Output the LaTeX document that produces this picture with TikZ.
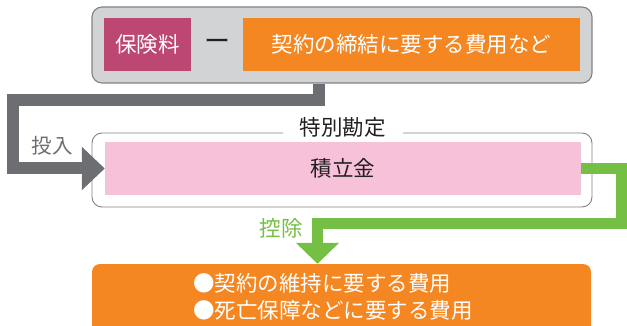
\documentclass[tikz,border=0pt]{standalone}
\usepackage{fontspec}
\setmainfont{Noto Sans CJK JP}
\usetikzlibrary{arrows.meta}
\definecolor{boxgray}{HTML}{D1D3D4}
\definecolor{edgegray}{HTML}{808285}
\definecolor{pipegray}{HTML}{6D6E71}
\definecolor{premium}{HTML}{BC4773}
\definecolor{costorange}{HTML}{F58722}
\definecolor{fundpink}{HTML}{F7C1D9}
\definecolor{deductgreen}{HTML}{74BF44}
\definecolor{inkdark}{HTML}{231F20}
\begin{document}
\begin{tikzpicture}[x=1pt, y=-1pt,
    txt/.style={font=\fontsize{21.5}{27}\selectfont, inner sep=0pt},
    panel/.style={draw=edgegray, line width=1.1pt, rounded corners=10pt},
    plate/.style={txt, minimum height=53pt},
    inflow/.style={pipegray, line width=12pt, -{Triangle[length=23pt, width=42pt]}},
    outflow/.style={deductgreen, line width=11pt, -{Triangle[length=21pt, width=42pt]}}]
    \useasboundingbox (0,0) rectangle (627,326);
    % Premium minus acquisition costs
    \node[panel, fill=boxgray, minimum width=500pt, minimum height=76pt] (top) at (342,45) {};
    \node[plate, fill=premium, text=white, minimum width=87pt] (prem) at (147.5,44.5) {保険料};
    \node[txt, text=inkdark, font=\fontsize{26}{27}\selectfont] (minus) at (217,44.5) {ー};
    \node[plate, fill=costorange, text=white, minimum width=337pt] (acq) at (411.5,44.5) {契約の締結に要する費用など};
    % Separate account
    \node[panel, fill=white, line width=0.9pt, minimum width=500pt, minimum height=74pt] (acct) at (342,170) {};
    \node[txt, fill=white, inner xsep=17pt, inner ysep=2pt, text=inkdark] (acctlabel) at (342.5,127) {特別勘定};
    \node[plate, fill=fundpink, text=inkdark, minimum width=476pt] (fund) at (343,168.5) {積立金};
    % Deducted costs
    \node[fill=costorange, rounded corners=8pt, minimum width=499pt, minimum height=100pt] (costs) at (341.5,314) {};
    \node[txt, text=white, align=left, anchor=west] (costlist) at (193,296.5) {●契約の維持に要する費用\\●死亡保障などに要する費用};
    % Flows
    \coordinate (bend) at (318.5,100);
    \coordinate (turn) at (13,168.5);
    \draw[inflow] (top.south -| bend) -- (bend) -| (turn) -- (fund.west);
    \node[txt, text=pipegray, font=\fontsize{20.5}{24}\selectfont] (inlabel) at (52,146) {投入};
    \coordinate (edge) at (621.5,223.5);
    \coordinate (drop) at (317.5,223.5);
    \draw[outflow] (fund.east) -| (edge) -- (drop) -- (drop |- costs.north);
    \node[txt, text=deductgreen] (outlabel) at (281,228) {控除};
\end{tikzpicture}
\end{document}
